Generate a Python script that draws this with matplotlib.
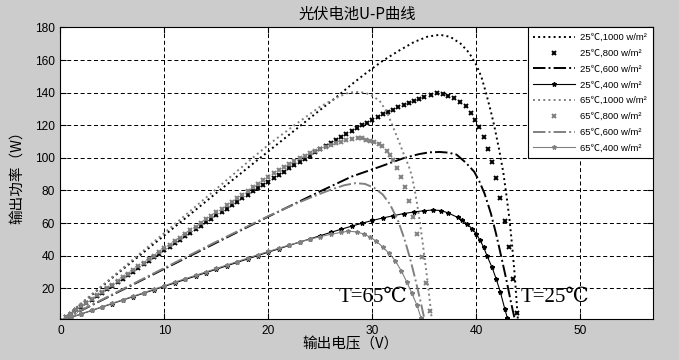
import matplotlib
matplotlib.use('Agg')
import matplotlib.pyplot as plt

# 25℃, 1000 W/m2 (点线)
v25_1000 = [0, 5, 10, 15, 20, 25, 26.5, 28, 29.5, 31, 32.5, 34, 35.3, 36.5, 37.5, 38.5, 39.3, 40,
            40.5, 40.95, 41.4, 41.75, 42.2, 42.6, 42.9, 43.2, 43.45, 43.7, 43.9, 44.0]
p25_1000 = [0, 26.5, 52.5, 78.5, 104, 129.5, 137, 145, 152.5, 159.5, 165.5, 171, 174.3, 175.5, 174.2, 170, 164.5, 157,
            149.5, 139.5, 128.5, 119, 105, 91, 77, 62, 46, 28, 10, 1]

# 25℃, 800 W/m2 (x 标记)
v25_800 = [0, 0.5, 1, 1.5, 2, 2.5, 3, 3.5, 4, 4.5, 5, 5.5, 6, 6.5, 7, 7.5, 8, 8.5, 9, 9.5,
           10, 10.5, 11, 11.5, 12, 12.5, 13, 13.5, 14, 14.5, 15, 15.5, 16, 16.5, 17, 17.5, 18, 18.5, 19, 19.5,
           20, 20.5, 21, 21.5, 22, 22.5, 23, 23.5, 24, 24.5, 25, 25.5, 26, 26.5, 27, 27.5, 28, 28.5, 29, 29.5,
           30, 30.5, 31, 31.5, 32, 32.5, 33, 33.5, 34, 34.5, 35,
           35.6, 36.2, 36.8, 37.3, 37.9, 38.4, 39.0, 39.5, 39.9, 40.3, 40.7, 41.1, 41.5, 41.85,
           42.3, 42.75, 43.1, 43.5, 43.9]
p25_800 = [0, 2.2, 4.35, 6.5, 8.7, 10.9, 13.0, 15.2, 17.3, 19.5, 21.7, 23.9, 26.0, 28.2, 30.3, 32.5, 34.6, 36.8, 39.0, 41.1,
           43.3, 45.5, 47.6, 49.8, 51.9, 54.1, 56.2, 58.3, 60.4, 62.6, 64.7, 66.8, 68.9, 71.0, 73.1, 75.2, 77.3, 79.4, 81.4, 83.4,
           85.4, 87.5, 89.5, 91.5, 93.5, 95.5, 97.5, 99.5, 101.4, 103.4, 105.3, 107.2, 109.1, 111.0, 112.8, 114.6, 116.4, 118.2, 119.9, 121.6,
           123.3, 125.0, 126.6, 128.1, 129.6, 131.0, 132.4, 133.7, 134.9, 136.1, 137.2,
           138.5, 139.5, 139.2, 138.2, 136.6, 134.5, 131.5, 127.8, 123.5, 118.7, 112.6, 105.7, 97.4, 87.5,
           75.3, 61.0, 45.3, 26.0, 4.8]

# 25℃, 600 W/m2 (点划线)
v25_600 = [0, 5, 10, 15, 20, 25, 28, 30.7, 33, 34.5, 35.5, 36.5, 37.3, 38.1, 39, 39.8, 40.3, 40.8,
           41.4, 41.9, 42.4, 42.9, 43.35, 43.7]
p25_600 = [0, 16, 32, 48, 64, 79.5, 88.5, 94.5, 99.8, 102.3, 103.4, 103.6, 103.2, 102, 97, 91.5, 85.5, 78,
           66, 53.5, 39.5, 25, 11, 1]

# 25℃, 400 W/m2 (实线 + 标记)
v25_400 = [0, 1, 2, 3, 4, 5, 6, 7, 8, 9, 10, 11, 12, 13, 14, 15, 16, 17, 18, 19,
           20, 21, 22, 23, 24, 25, 26, 27, 28, 29, 30, 31, 32, 33, 34, 35,
           35.8, 36.6, 37.3, 38.2, 38.6, 39.1, 39.6, 40.0, 40.35, 40.7, 41.05, 41.5, 41.9, 42.3, 42.75, 43.0]
p25_400 = [0, 2.13, 4.26, 6.39, 8.52, 10.65, 12.78, 14.9, 17.0, 19.1, 21.2, 23.3, 25.4, 27.5, 29.6, 31.7, 33.8, 35.9, 38.0, 40.1,
           42.2, 44.2, 46.3, 48.3, 50.3, 52.3, 54.3, 56.2, 58.1, 59.9, 61.6, 63.1, 64.5, 65.8, 66.8, 67.6,
           68.0, 67.7, 66.2, 63.5, 62.0, 59.5, 56.5, 53.4, 49.5, 45.3, 39.6, 33.1, 26.0, 18.0, 7.2, 1.5]

# 65℃, 1000 W/m2
v65_1000 = [0, 5, 10, 15, 18.3, 20.2, 22.5, 25, 26.6, 27.5, 28.3, 29.2, 29.8, 30.7, 31.4, 31.7, 32.5, 33.1,
            33.5, 33.8, 34.05, 34.3, 34.55, 34.8, 35.0, 35.2, 35.4, 35.55, 35.7]
p65_1000 = [0, 27, 54, 81, 99, 109, 120, 131.5, 137, 139.5, 140.5, 140, 138.8, 135, 128, 123.5, 111, 101,
            95, 89, 81, 72, 61.5, 50, 40, 30, 19.5, 11, 2]

# 65℃, 800 W/m2
v65_800 = [0, 0.5, 1, 1.5, 2, 2.5, 3, 3.5, 4, 4.5, 5, 5.5, 6, 6.5, 7, 7.5, 8, 8.5, 9, 9.5,
           10, 10.5, 11, 11.5, 12, 12.5, 13, 13.5, 14, 14.5, 15, 15.5, 16, 16.5, 17, 17.5, 18, 18.5, 19, 19.5,
           20, 20.5, 21, 21.5, 22, 22.5, 23, 23.5, 24, 24.5, 25, 25.5, 26, 26.5, 27, 27.5, 28,
           28.6, 29.0, 29.4, 29.8, 30.2, 30.6, 30.9, 31.4, 31.7, 32.0, 32.4, 32.8, 33.1, 33.5, 33.9, 34.3,
           34.8, 35.2, 35.5]
p65_800 = [0, 2.2, 4.45, 6.7, 8.9, 11.1, 13.35, 15.6, 17.8, 20.0, 22.2, 24.5, 26.7, 28.9, 31.1, 33.4, 35.6, 37.8, 40.0, 42.3,
           44.5, 46.7, 48.9, 51.1, 53.3, 55.6, 57.8, 60.0, 62.2, 64.4, 66.6, 68.8, 71.0, 73.2, 75.3, 77.5, 79.7, 81.9, 84.1, 86.3,
           88.5, 90.5, 92.5, 94.4, 96.3, 98.1, 99.8, 101.3, 102.8, 104.2, 105.5, 106.8, 108.0, 109.0, 110.0, 110.8, 111.5,
           112.2, 112.0, 111.2, 110.5, 109.5, 108.2, 107.0, 104.0, 101.5, 98.5, 94.0, 88.5, 82.0, 73.5, 64.0, 53.0,
           39.0, 23.5, 6.0]

# 65℃, 600 W/m2
v65_600 = [0, 5, 10, 15, 20, 22.5, 24, 26, 27.3, 28.4, 29.3, 30.2, 31.0, 31.7, 32.5, 33.1, 33.6, 34.1, 34.6, 35.0]
p65_600 = [0, 16.3, 32.5, 48.6, 64.3, 71.5, 75.5, 80.5, 83.2, 84.5, 84, 81.5, 77.5, 71.5, 61, 50, 39, 26.5, 13, 1.5]

# 65℃, 400 W/m2
v65_400 = [0, 1, 2, 3, 4, 5, 6, 7, 8, 9, 10, 11, 12, 13, 14, 15, 16, 17, 18, 19,
           20, 21, 22, 23, 24, 25, 26, 27,
           27.7, 28.5, 29.2, 29.8, 30.4, 31.0, 31.6, 32.2, 32.8, 33.3, 33.8, 34.3, 34.7]
p65_400 = [0, 2.17, 4.34, 6.5, 8.7, 10.85, 13.0, 15.2, 17.3, 19.5, 21.6, 23.8, 25.9, 28.0, 30.1, 32.2, 34.3, 36.4, 38.5, 40.6,
           42.6, 44.6, 46.5, 48.4, 50.1, 51.7, 53.1, 54.3,
           55.0, 54.6, 53.2, 51.4, 48.8, 45.3, 41.5, 37.0, 30.5, 24.0, 17.0, 9.5, 1.5]

labels = ['25℃,1000 w/m²', '25℃,800 w/m²', '25℃,600 w/m²', '25℃,400 w/m²',
          '65℃,1000 w/m²', '65℃,800 w/m²', '65℃,600 w/m²', '65℃,400 w/m²']

BLACK = '#000000'
GRAY = '#808080'

curves = [
    (v25_1000, p25_1000, dict(color=BLACK, ls=':', lw=1.4)),
    (v25_800, p25_800, dict(color=BLACK, ls='none', marker='x', ms=3.5, mew=1.4)),
    (v25_600, p25_600, dict(color=BLACK, ls='-.', lw=1.4)),
    (v25_400, p25_400, dict(color=BLACK, ls='-', lw=0.8, marker='*', ms=3.2)),
    (v65_1000, p65_1000, dict(color=GRAY, ls=':', lw=1.4)),
    (v65_800, p65_800, dict(color=GRAY, ls='none', marker='x', ms=3.5, mew=1.4)),
    (v65_600, p65_600, dict(color=GRAY, ls='-.', lw=1.4)),
    (v65_400, p65_400, dict(color=GRAY, ls='-', lw=0.8, marker='*', ms=3.2)),
]

plt.rcParams['font.family'] = ['Liberation Sans', 'Noto Sans CJK SC']
cjk = ['Noto Sans CJK SC', 'DejaVu Sans']
serif = ['Liberation Serif', 'DejaVu Serif', 'Noto Sans CJK SC']

fig = plt.figure(figsize=(6.79, 3.6), dpi=100, facecolor='#cccccc')
ax = fig.add_axes([0.0891, 0.1131, 0.8726, 0.8108])
ax.set_facecolor('white')

for (v, p, style), lab in zip(curves, labels):
    ax.plot(v, p, label=lab, **style)

ax.set_xlim(0, 57)
ax.set_ylim(1, 180)
ax.set_xticks([0, 10, 20, 30, 40, 50])
ax.set_yticks([20, 40, 60, 80, 100, 120, 140, 160, 180])
ax.tick_params(direction='in', length=4, width=0.8, top=True, right=True,
               labelsize=8.6, pad=4)
for s in ax.spines.values():
    s.set_linewidth(0.8)
ax.grid(True, color='black', linestyle=(0, (4, 2.7)), linewidth=0.72)

ax.set_title('光伏电池U-P曲线', fontsize=11, family=cjk, pad=6)
ax.set_xlabel('输出电压（V）', fontsize=10.5, family=cjk)
ax.set_ylabel('输出功率（W）', fontsize=10.5, family=cjk)
ax.xaxis.set_label_coords(0.49, -0.062)
ax.yaxis.set_label_coords(-0.062, 0.5)

ax.text(30.06, 14.4, 'T=65℃', ha='center', va='center', fontsize=15, family=serif)
ax.text(47.6, 14.4, 'T=25℃', ha='center', va='center', fontsize=15, family=serif)

leg = ax.legend(loc='upper right', borderaxespad=0, numpoints=1,
                handlelength=4.4, handletextpad=0.6, labelspacing=0.72,
                borderpad=0.6, fancybox=False, framealpha=1, edgecolor='black',
                prop={'family': ['Liberation Sans', 'Noto Sans CJK SC'], 'size': 6.8})
leg.get_frame().set_linewidth(0.8)

fig.savefig('out.png', dpi=100, facecolor=fig.get_facecolor())
